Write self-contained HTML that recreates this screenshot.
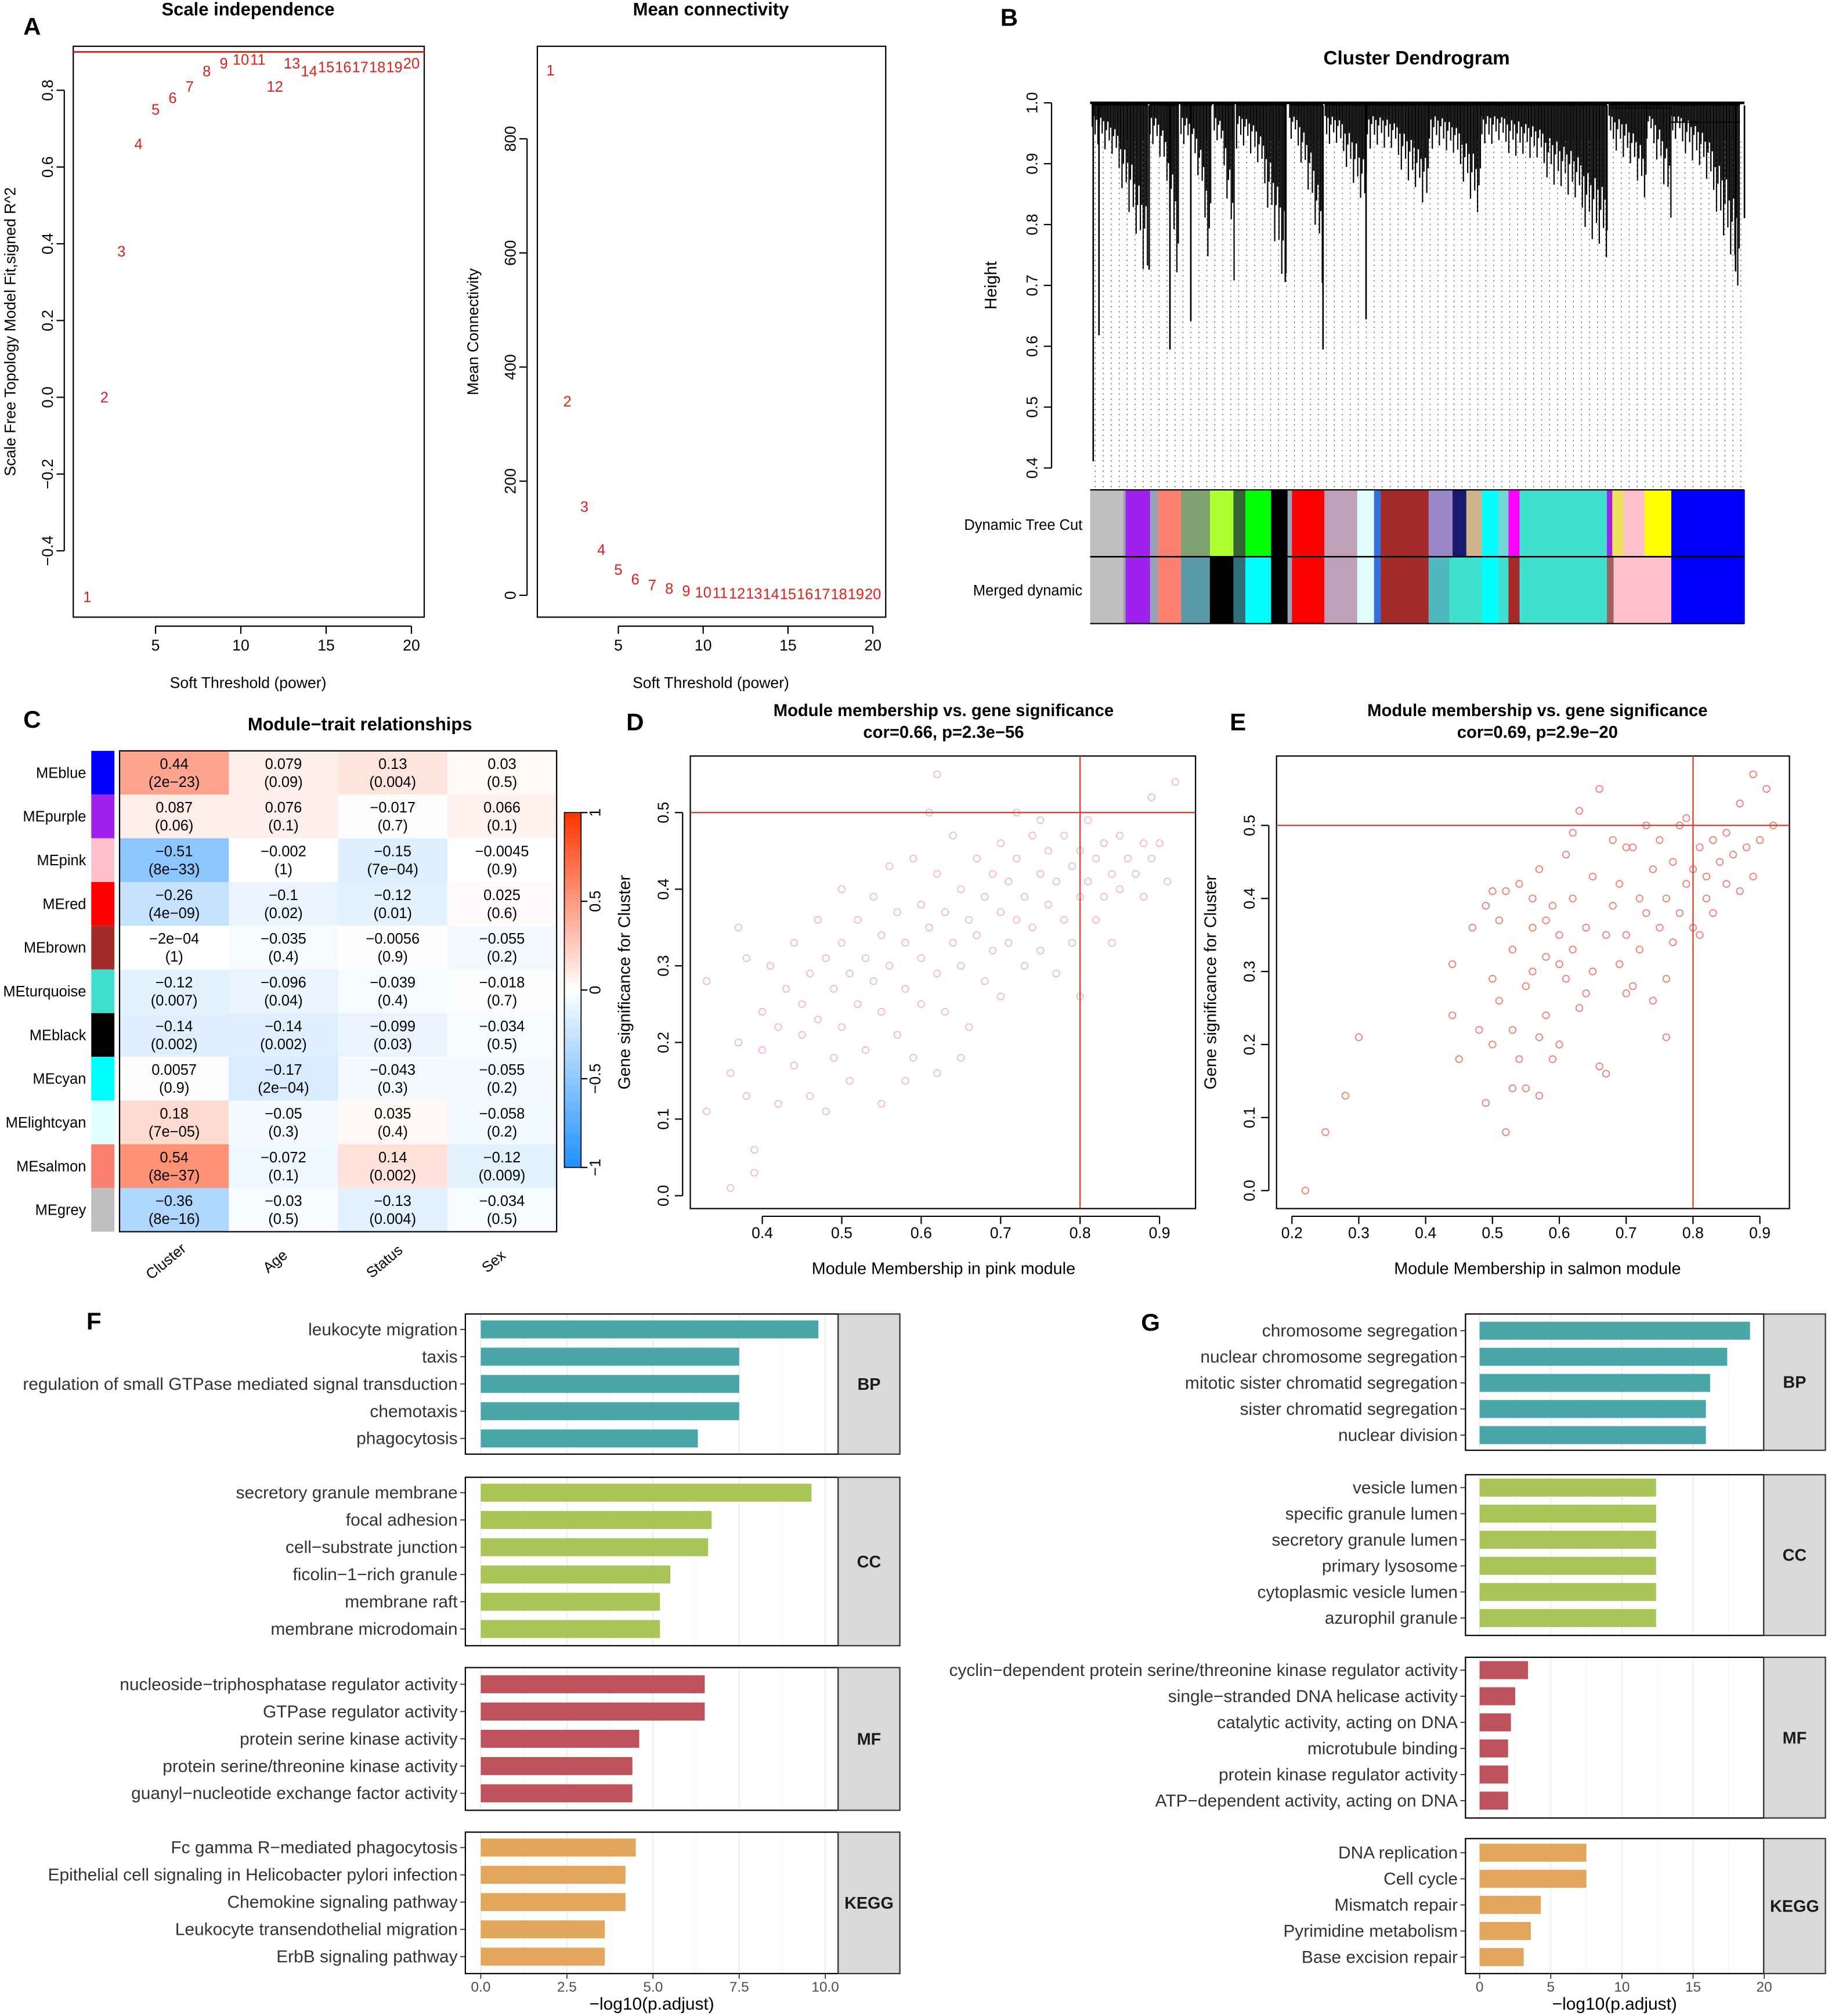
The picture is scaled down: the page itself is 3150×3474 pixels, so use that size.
<!DOCTYPE html>
<html><head><meta charset="utf-8"><style>
html,body{margin:0;padding:0;background:#fff;}
svg{display:block;font-family:"Liberation Sans",Arial,sans-serif;}
</style></head><body>
<svg id="fig" xmlns="http://www.w3.org/2000/svg" width="3150" height="3474" viewBox="0 0 1422 1568" preserveAspectRatio="none"></svg>
<script>
// ---------- DATA ----------
const powers=[1,2,3,4,5,6,7,8,9,10,11,12,13,14,15,16,17,18,19,20];
const sftR2=[-0.52,0.0,0.38,0.66,0.75,0.78,0.81,0.85,0.87,0.88,0.88,0.81,0.87,0.85,0.86,0.86,0.86,0.86,0.86,0.87];
const meanK=[920,340,155,80,45,28,18,12,8,5,4,3,3,2,2,2,2,2,2,2];
const modules=['MEblue','MEpurple','MEpink','MEred','MEbrown','MEturquoise','MEblack','MEcyan','MElightcyan','MEsalmon','MEgrey'];
const moduleColors=['#0000ff','#a020f0','#ffc0cb','#ff0000','#a52a2a','#40e0d0','#000000','#00ffff','#e0ffff','#fa8072','#bebebe'];
const traits=['Cluster','Age','Status','Sex'];
const corVals=[[0.44,0.079,0.13,0.03],[0.087,0.076,-0.017,0.066],[-0.51,-0.002,-0.15,-0.0045],[-0.26,-0.1,-0.12,0.025],[-0.0002,-0.035,-0.0056,-0.055],[-0.12,-0.096,-0.039,-0.018],[-0.14,-0.14,-0.099,-0.034],[0.0057,-0.17,-0.043,-0.055],[0.18,-0.05,0.035,-0.058],[0.54,-0.072,0.14,-0.12],[-0.36,-0.03,-0.13,-0.034]];
const corLabels=[['0.44','0.079','0.13','0.03'],['0.087','0.076','\u22120.017','0.066'],['\u22120.51','\u22120.002','\u22120.15','\u22120.0045'],['\u22120.26','\u22120.1','\u22120.12','0.025'],['\u22122e\u221204','\u22120.035','\u22120.0056','\u22120.055'],['\u22120.12','\u22120.096','\u22120.039','\u22120.018'],['\u22120.14','\u22120.14','\u22120.099','\u22120.034'],['0.0057','\u22120.17','\u22120.043','\u22120.055'],['0.18','\u22120.05','0.035','\u22120.058'],['0.54','\u22120.072','0.14','\u22120.12'],['\u22120.36','\u22120.03','\u22120.13','\u22120.034']];
const pLabels=[['2e\u221223','0.09','0.004','0.5'],['0.06','0.1','0.7','0.1'],['8e\u221233','1','7e\u221204','0.9'],['4e\u221209','0.02','0.01','0.6'],['1','0.4','0.9','0.2'],['0.007','0.04','0.4','0.7'],['0.002','0.002','0.03','0.5'],['0.9','2e\u221204','0.3','0.2'],['7e\u221205','0.3','0.4','0.2'],['8e\u221237','0.1','0.002','0.009'],['8e\u221216','0.5','0.004','0.5']];
const pinkMM=[0.33,0.33,0.36,0.36,0.37,0.37,0.38,0.38,0.39,0.39,0.40,0.40,0.41,0.42,0.42,0.43,0.44,0.44,0.45,0.45,0.46,0.46,0.47,0.47,0.48,0.48,0.49,0.49,0.50,0.50,0.50,0.51,0.51,0.52,0.52,0.53,0.53,0.54,0.54,0.55,0.55,0.55,0.56,0.56,0.57,0.57,0.58,0.58,0.59,0.59,0.60,0.60,0.60,0.61,0.61,0.62,0.62,0.62,0.63,0.63,0.64,0.64,0.65,0.65,0.66,0.66,0.67,0.67,0.68,0.68,0.69,0.69,0.70,0.70,0.70,0.71,0.71,0.72,0.72,0.73,0.73,0.74,0.74,0.75,0.75,0.76,0.76,0.77,0.77,0.78,0.78,0.79,0.79,0.80,0.80,0.80,0.81,0.81,0.82,0.82,0.83,0.83,0.84,0.84,0.85,0.85,0.86,0.87,0.88,0.88,0.89,0.89,0.90,0.91,0.92,0.62,0.72,0.75,0.58,0.65];
const pinkGS=[0.28,0.11,0.01,0.16,0.35,0.20,0.31,0.13,0.06,0.03,0.24,0.19,0.30,0.22,0.12,0.27,0.33,0.17,0.25,0.21,0.29,0.13,0.36,0.23,0.31,0.11,0.27,0.18,0.40,0.33,0.22,0.29,0.15,0.36,0.25,0.31,0.19,0.39,0.28,0.34,0.24,0.12,0.43,0.30,0.37,0.21,0.33,0.27,0.44,0.18,0.38,0.31,0.25,0.50,0.35,0.42,0.29,0.16,0.37,0.24,0.47,0.33,0.40,0.30,0.36,0.22,0.44,0.34,0.39,0.28,0.42,0.32,0.46,0.37,0.26,0.41,0.33,0.44,0.36,0.39,0.30,0.47,0.35,0.42,0.32,0.45,0.38,0.41,0.29,0.47,0.36,0.43,0.33,0.45,0.39,0.26,0.49,0.41,0.44,0.36,0.46,0.39,0.42,0.33,0.47,0.40,0.44,0.42,0.46,0.39,0.52,0.44,0.46,0.41,0.54,0.55,0.50,0.49,0.15,0.18];
const salMM=[0.22,0.25,0.28,0.30,0.44,0.44,0.45,0.47,0.48,0.49,0.49,0.50,0.50,0.51,0.51,0.52,0.52,0.53,0.53,0.54,0.54,0.55,0.55,0.56,0.56,0.57,0.57,0.57,0.58,0.58,0.59,0.59,0.60,0.60,0.61,0.61,0.62,0.62,0.63,0.63,0.64,0.64,0.65,0.65,0.66,0.66,0.67,0.67,0.68,0.68,0.69,0.69,0.70,0.70,0.71,0.71,0.72,0.72,0.73,0.73,0.74,0.74,0.75,0.75,0.76,0.76,0.77,0.77,0.78,0.78,0.79,0.79,0.80,0.80,0.81,0.81,0.82,0.82,0.83,0.83,0.84,0.85,0.85,0.86,0.87,0.87,0.88,0.89,0.89,0.90,0.91,0.92,0.62,0.56,0.50,0.53,0.76,0.70,0.60,0.58];
const salGS=[0.00,0.08,0.13,0.21,0.24,0.31,0.18,0.36,0.22,0.12,0.39,0.41,0.20,0.26,0.37,0.08,0.41,0.22,0.33,0.18,0.42,0.28,0.14,0.36,0.30,0.13,0.44,0.21,0.32,0.24,0.39,0.18,0.35,0.20,0.46,0.29,0.33,0.40,0.25,0.52,0.36,0.27,0.43,0.30,0.55,0.17,0.35,0.16,0.48,0.39,0.31,0.42,0.47,0.35,0.28,0.47,0.40,0.33,0.50,0.38,0.26,0.44,0.36,0.48,0.29,0.40,0.45,0.34,0.50,0.38,0.42,0.51,0.36,0.44,0.35,0.47,0.40,0.43,0.38,0.48,0.45,0.49,0.42,0.46,0.53,0.41,0.47,0.57,0.43,0.48,0.55,0.50,0.49,0.40,0.29,0.14,0.21,0.27,0.31,0.37];
const fTerms=[['leukocyte migration','taxis','regulation of small GTPase mediated signal transduction','chemotaxis','phagocytosis'],['secretory granule membrane','focal adhesion','cell\u2212substrate junction','ficolin\u22121\u2212rich granule','membrane raft','membrane microdomain'],['nucleoside\u2212triphosphatase regulator activity','GTPase regulator activity','protein serine kinase activity','protein serine/threonine kinase activity','guanyl\u2212nucleotide exchange factor activity'],['Fc gamma R\u2212mediated phagocytosis','Epithelial cell signaling in Helicobacter pylori infection','Chemokine signaling pathway','Leukocyte transendothelial migration','ErbB signaling pathway']];
const fVals=[[9.8,7.5,7.5,7.5,6.3],[9.6,6.7,6.6,5.5,5.2,5.2],[6.5,6.5,4.6,4.4,4.4],[4.5,4.2,4.2,3.6,3.6]];
const gTerms=[['chromosome segregation','nuclear chromosome segregation','mitotic sister chromatid segregation','sister chromatid segregation','nuclear division'],['vesicle lumen','specific granule lumen','secretory granule lumen','primary lysosome','cytoplasmic vesicle lumen','azurophil granule'],['cyclin\u2212dependent protein serine/threonine kinase regulator activity','single\u2212stranded DNA helicase activity','catalytic activity, acting on DNA','microtubule binding','protein kinase regulator activity','ATP\u2212dependent activity, acting on DNA'],['DNA replication','Cell cycle','Mismatch repair','Pyrimidine metabolism','Base excision repair']];
const gVals=[[19.0,17.4,16.2,15.9,15.9],[12.4,12.4,12.4,12.4,12.4,12.4],[3.4,2.5,2.2,2.0,2.0,2.0],[7.5,7.5,4.3,3.6,3.1]];
const ontologies=['BP','CC','MF','KEGG'];
const fTicks=[0,2.5,5,7.5,10];
const fTickLabels=['0.0','2.5','5.0','7.5','10.0'];
const gTicks=[0,5,10,15,20];

// ---------- HELPERS ----------
const NS='http://www.w3.org/2000/svg';
const svg=document.getElementById('fig');
function mk(tag,attrs,parent){const e=document.createElementNS(NS,tag);for(const k in attrs)e.setAttribute(k,attrs[k]);(parent||svg).appendChild(e);return e;}
function tx(x,y,s,size,name,opts){opts=opts||{};
  const a={x:x,y:y,'font-size':size,fill:opts.fill||'#000','text-anchor':opts.anchor||'middle'};
  if(opts.bold)a['font-weight']='bold';
  if(opts.rot!==undefined)a.transform='rotate('+opts.rot+' '+x+' '+y+')';
  const e=mk('text',a);e.textContent=s;
  
  
  return e;}
function ln(x1,y1,x2,y2,col,w,extra){const a={x1:x1,y1:y1,x2:x2,y2:y2,stroke:col||'#000','stroke-width':w||1};if(extra)for(const k in extra)a[k]=extra[k];return mk('line',a);}
function xAxisR(y0,ticks,f,ly,name){ln(f(ticks[0]),y0,f(ticks[ticks.length-1]),y0);
  ticks.forEach(t=>{ln(f(t),y0,f(t),y0+6);tx(f(t),ly,String(t),12,name+'-tick-label');});}
function yAxisR(x0,ticks,f,lx,name,labs){ln(x0,f(ticks[0]),x0,f(ticks[ticks.length-1]));
  ticks.forEach((t,i)=>{ln(x0-6,f(t),x0,f(t));tx(lx,f(t),labs?labs[i]:String(t),12,name+'-tick-label',{rot:-90});});}
function box(x,y,w,h,name){const r=mk('rect',{x:x,y:y,width:w,height:h,fill:'none',stroke:'#000','stroke-width':1});
  
  }

// ---------- PANEL LETTERS ----------
[['A',25,27],['B',785,20],['C',25,566],['D',494,568],['E',963,568],['F',73,1034],['G',895,1035]].forEach(p=>tx(p[1],p[2],p[0],19,'panel-letter-'+p[0].toLowerCase(),{bold:true}));

// ---------- PANEL A LEFT ----------
(function(){
  const X=p=>121+(p-5)*13.27, Y=v=>309-v*298.5;
  box(57,36,273,444,'scale-independence-plot-area');
  tx(193,12,'Scale independence',14,'scale-independence-title',{bold:true});
  xAxisR(487,[5,10,15,20],X,506,'scale-x');
  yAxisR(50,[-0.4,-0.2,0,0.2,0.4,0.6,0.8],Y,41,'scale-y',['\u22120.4','\u22120.2','0.0','0.2','0.4','0.6','0.8']);
  tx(193,535,'Soft Threshold (power)',12,'scale-x-title');
  tx(12,258,'Scale Free Topology Model Fit,signed R^2',12,'scale-y-title',{rot:-90});
  const h=ln(57,Y(0.9),330,Y(0.9),'#e0201b',1.3);
  
  
  powers.forEach((p,i)=>{const t=tx(X(p),Y(sftR2[i])+4,String(p),11.5,'scale-point',{fill:'#e0201b'});
    
    });
})();

// ---------- PANEL A RIGHT ----------
(function(){
  const X=p=>481+(p-5)*13.2, Y=v=>463-v*0.4438;
  box(418,36,271,444,'mean-connectivity-plot-area');
  tx(553,12,'Mean connectivity',14,'mean-connectivity-title',{bold:true});
  xAxisR(487,[5,10,15,20],X,506,'mk-x');
  yAxisR(410,[0,200,400,600,800],Y,401,'mk-y');
  tx(553,535,'Soft Threshold (power)',12,'mk-x-title');
  tx(372,258,'Mean Connectivity',12,'mk-y-title',{rot:-90});
  powers.forEach((p,i)=>{const t=tx(X(p),Y(meanK[i])+4,String(p),11.5,'mk-point',{fill:'#e0201b'});
    
    });
})();

// ---------- PANEL B DENDROGRAM ----------
(function(){
  const fx=z=>848+(z-35)*0.3451, fy=z=>80+(z-45)*0.276;
  const Hy=h=>80+(1-h)*473.3;
  tx(1102,50,'Cluster Dendrogram',15,'dendrogram-title',{bold:true});
  yAxisR(818,[0.4,0.5,0.6,0.7,0.8,0.9,1.0],Hy,807,'height',['0.4','0.5','0.6','0.7','0.8','0.9','1.0']);
  tx(775,222,'Height',13,'height-axis-title',{rot:-90});
  const g=mk('g',{});
  
  
  for(let x=852;x<1357;x+=6.2){ln(x,110,x,381,'#555',0.6,{'stroke-dasharray':'1 3'});}
  const clusters=[[40,165,515],[170,235,480],[240,310,490],[315,360,450],[365,478,550],[485,560,500],[565,660,300],[660,800,290],[800,915,295],[915,1200,405],[1205,1290,270],[1290,1345,290],[1345,1500,520]];
  clusters.forEach((c,ci)=>{
    const x0=fx(c[0]),x1=fx(c[1]),tip=fy(c[2]);
    let d='';
    for(let x=x0;x<=x1;x+=1.1){
      const t=(x-x0)/(x1-x0);
      const k=((Math.floor(x*7)%13)/13);
      const depth=84+(tip-84)*Math.pow(t,2.2)*(0.6+0.4*k)+ 6+30*k*k;
      d+='M'+x.toFixed(1)+' 81V'+depth.toFixed(1);
    }
    mk('path',{d:d,stroke:'#000','stroke-width':1,fill:'none'},g);
    ln(x0,81,x1,81,'#000',2.5);
  });
  [[42,1055],[55,700],[215,740],[262,660],[560,740],[657,655],[1510,370],[1200,405],[1490,520],[168,515],[475,550]].forEach(s=>ln(fx(s[0]),82,fx(s[0]),fy(s[1]),'#000',1.2));
  ln(848,80,1357,80,'#000',2);
  ln(fx(1205),84,fx(1345),84,'#000',1);
  ln(fx(1345),95,fx(1500),95,'#000',1);
  const mix='#9aa0b5';
  const dyn=[[35,110,'#bebebe'],[110,115,mix],[115,170,'#a020f0'],[170,188,mix],[188,240,'#fa8072'],[240,305,'#7fa070'],[305,358,'#adff2f'],[358,385,'#336633'],[385,443,'#00ff00'],[443,480,'#000000'],[480,490,mix],[490,563,'#ff0000'],[563,637,'#c0a0b8'],[637,675,'#e0ffff'],[675,690,'#3070e0'],[690,798,'#a52a2a'],[798,852,'#9a88c8'],[852,883,'#191970'],[883,918,'#d2b48c'],[918,955,'#00ffff'],[955,978,'#70d8d8'],[978,1003,'#ff00ff'],[1003,1200,'#40e0d0'],[1200,1212,'#a020f0'],[1212,1238,'#f0e060'],[1238,1285,'#ffc0cb'],[1285,1345,'#ffff00'],[1345,1510,'#0000ff']];
  const mer=[[35,110,'#bebebe'],[110,115,mix],[115,170,'#a020f0'],[170,188,mix],[188,240,'#fa8072'],[240,305,'#5a9aa8'],[305,358,'#000000'],[358,385,'#30707a'],[385,443,'#00ffff'],[443,480,'#000000'],[480,490,mix],[490,563,'#ff0000'],[563,637,'#c0a0b8'],[637,675,'#e0ffff'],[675,690,'#3070e0'],[690,798,'#a52a2a'],[798,845,'#50b8c0'],[845,918,'#40e0d0'],[918,955,'#00ffff'],[955,978,'#40e0d0'],[978,1003,'#a52a2a'],[1003,1200,'#40e0d0'],[1200,1215,'#a06060'],[1215,1345,'#ffc0cb'],[1345,1510,'#0000ff']];
  [[dyn,381,'dynamic-tree-cut-bar'],[mer,433,'merged-dynamic-bar']].forEach(b=>{
    b[0].forEach(s=>{const r=mk('rect',{x:fx(s[0]),y:b[1],width:fx(s[1])-fx(s[0])+0.3,height:52,fill:s[2]});
      
      });
  });
  ln(848,381,1357,381,'#000',1);ln(848,433,1357,433,'#000',1.2);ln(848,485,1357,485,'#000',1);
  tx(842,412,'Dynamic Tree Cut',11.5,'dynamic-tree-cut-label',{anchor:'end'});
  tx(842,463,'Merged dynamic',11.5,'merged-dynamic-label',{anchor:'end'});
})();

// ---------- PANEL C HEATMAP ----------
(function(){
  const x0=93,cw=85,y0=584,rh=34;
  tx(280,568,'Module\u2212trait relationships',14,'heatmap-title',{bold:true});
  function col(v){const t=Math.min(1,Math.abs(v));let c=v>=0?[255,51,0]:[30,144,255];
    return 'rgb('+c.map(k=>Math.round(255+(k-255)*t)).join(',')+')';}
  modules.forEach((m,i)=>{
    const sw=mk('rect',{x:71,y:y0+i*rh,width:18,height:rh,fill:moduleColors[i]});
    
    
    tx(67,y0+i*rh+21,m,11.5,'module-label',{anchor:'end'});
    traits.forEach((t,j)=>{
      const r=mk('rect',{x:x0+j*cw,y:y0+i*rh,width:cw+0.3,height:rh+0.3,fill:col(corVals[i][j])});
      
      
      tx(x0+j*cw+cw/2,y0+i*rh+14,corLabels[i][j],11.5,'cell-correlation');
      tx(x0+j*cw+cw/2,y0+i*rh+28,'('+pLabels[i][j]+')',11.5,'cell-pvalue');
    });
  });
  box(x0,y0,cw*4,rh*11,'heatmap-border');
  traits.forEach((t,j)=>tx(x0+j*cw+cw/2-4,984,t,11.5,'trait-label',{rot:-40}));
  const grad=mk('linearGradient',{id:'cb',x1:0,y1:0,x2:0,y2:1});
  [[0,'rgb(255,51,0)'],[0.5,'#ffffff'],[1,'rgb(30,144,255)']].forEach(s=>mk('stop',{offset:s[0],'stop-color':s[1]},grad));
  const cb=mk('rect',{x:439,y:632,width:13,height:276,fill:'url(#cb)',stroke:'#000','stroke-width':0.8});
  
  
  [[1,'1'],[0.5,'0.5'],[0,'0'],[-0.5,'\u22120.5'],[-1,'\u22121']].forEach(k=>{const y=770-k[0]*138;ln(452,y,457,y);tx(467,y,k[1],12,'colorbar-tick-label',{rot:-90});});
})();

// ---------- PANELS D & E SCATTER ----------
function scatter(o){
  box(o.bx,o.by,o.bw,o.bh,o.name+'-plot-area');
  tx(o.tx,557,'Module membership vs. gene significance',13.2,o.name+'-title',{bold:true});
  tx(o.tx,574,o.sub,13.2,o.name+'-subtitle',{bold:true});
  xAxisR(o.by+o.bh+6,o.xt,o.X,963,o.name+'-x');
  yAxisR(o.bx-6,o.yt,o.Y,o.bx-17,o.name+'-y',o.yl);
  tx(o.tx,991,o.xlab,13,o.name+'-x-title');
  tx(o.bx-47,764,'Gene significance for  Cluster',13,o.name+'-y-title',{rot:-90});
  o.mm.forEach((m,i)=>{const c=mk('circle',{cx:o.X(m),cy:o.Y(o.gs[i]),r:2.6,fill:'none',stroke:o.pc,'stroke-width':0.8});
    
    });
  const v=ln(o.X(0.8),o.by,o.X(0.8),o.by+o.bh,'#d9352a',1);
  
  
  const h=ln(o.bx,o.Y(0.5),o.bx+o.bw,o.Y(0.5),'#d9352a',1);
  
  
}
scatter({name:'pink-scatter',bx:537,by:588,bw:393,bh:352,tx:734,sub:'cor=0.66, p=2.3e\u221256',xlab:'Module Membership in pink module',
  X:v=>593+(v-0.4)*618,Y:v=>930-v*596,xt:[0.4,0.5,0.6,0.7,0.8,0.9],yt:[0,0.1,0.2,0.3,0.4,0.5],yl:['0.0','0.1','0.2','0.3','0.4','0.5'],mm:pinkMM,gs:pinkGS,pc:'#f4b8c0'});
scatter({name:'salmon-scatter',bx:993,by:588,bw:399,bh:352,tx:1196,sub:'cor=0.69, p=2.9e\u221220',xlab:'Module Membership in salmon module',
  X:v=>1005+(v-0.2)*520,Y:v=>926-v*568,xt:[0.2,0.3,0.4,0.5,0.6,0.7,0.8,0.9],yt:[0,0.1,0.2,0.3,0.4,0.5],yl:['0.0','0.1','0.2','0.3','0.4','0.5'],mm:salMM,gs:salGS,pc:'#f07c70'});

// ---------- PANELS F & G ENRICHMENT ----------
const ontColors=['#4aa6a8','#a9c55a','#bd525c','#e2a75c'];
function enrich(o){
  const X=v=>o.x0+v*o.k;
  o.facets.forEach((f,fi)=>{
    const g=mk('rect',{x:o.px,y:f[0],width:o.sx-o.px,height:f[1]-f[0],fill:'#fff'});
    
    
    o.ticks.forEach((t,ti)=>{ln(X(t),f[0],X(t),f[1],'#ebebeb',0.8);
      if(ti<o.ticks.length-1)ln(X((t+o.ticks[ti+1])/2),f[0],X((t+o.ticks[ti+1])/2),f[1],'#f4f4f4',0.5);});
    o.terms[fi].forEach((t,ti)=>{
      const y=f[2]+ti*o.step;
      const b=mk('rect',{x:X(0),y:y-7,width:X(o.vals[fi][ti])-X(0),height:14,fill:ontColors[fi]});
      
      
      ln(o.px-4,y,o.px,y,'#333',0.8);
      tx(o.px-6,y+4.5,t,13.5,o.name+'-term-label',{anchor:'end',fill:'#333'});
    });
    box(o.px,f[0],o.sx-o.px,f[1]-f[0],o.name+'-panel-border');
    const s=mk('rect',{x:o.sx,y:f[0],width:48,height:f[1]-f[0],fill:'#d9d9d9',stroke:'#333','stroke-width':1});
    
    
    tx(o.sx+24,(f[0]+f[1])/2+4.5,ontologies[fi],13,o.name+'-strip-label',{bold:true,fill:'#1a1a1a'});
  });
  const yb=o.facets[3][1];
  o.ticks.forEach((t,i)=>{ln(X(t),yb,X(t),yb+4,'#333',0.8);tx(X(t),yb+14,o.tl[i],11,o.name+'-x-tick-label',{fill:'#4d4d4d'});});
  tx((o.px+o.sx)/2,yb+28,'\u2212log10(p.adjust)',13.5,o.name+'-x-title');
}
enrich({name:'pink-go',px:362,sx:652,x0:374,k:26.8,ticks:fTicks,tl:fTickLabels,step:21.2,terms:fTerms,vals:fVals,
  facets:[[1022,1131,1034],[1149,1280,1161],[1297,1408,1310],[1425,1535,1437]]});
enrich({name:'salmon-go',px:1140,sx:1372,x0:1151,k:11.07,ticks:gTicks,tl:gTicks.map(String),step:20.3,terms:gTerms,vals:gVals,
  facets:[[1022,1128,1035],[1147,1272,1157],[1289,1414,1299],[1430,1535,1441]]});
</script>
</body></html>
